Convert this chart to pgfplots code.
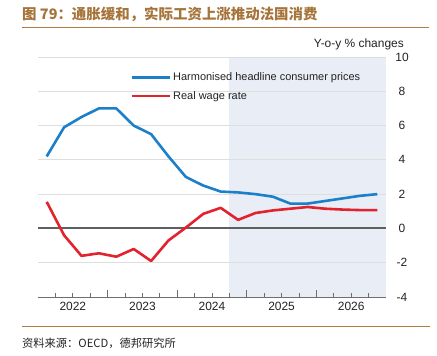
\documentclass[border=0pt]{standalone}
\usepackage{fontspec}
\setmainfont{Liberation Sans}
\newfontfamily\cjk{Noto Sans CJK SC}
\usepackage{pgfplots}
\pgfplotsset{compat=1.18}
\definecolor{titlebrown}{RGB}{166,116,58}
\definecolor{rulebrown}{RGB}{176,124,70}
\definecolor{hblue}{RGB}{27,128,201}
\definecolor{wred}{RGB}{226,34,44}
\definecolor{shadecol}{RGB}{233,237,246}
\definecolor{gridgray}{RGB}{222,222,222}
\definecolor{zerogray}{RGB}{95,95,95}
\definecolor{axisgray}{RGB}{110,110,110}
\definecolor{txt}{RGB}{35,35,35}
\begin{document}
\begin{tikzpicture}
\path (0,0) rectangle (437bp,356bp);
% title
\node[anchor=west, inner sep=0pt, text=titlebrown, font=\cjk\bfseries\fontsize{14.5}{16}\selectfont] at (22bp,342bp) {图 79：通胀缓和，实际工资上涨推动法国消费};
\draw[rulebrown, line width=1bp] (22bp,328bp) -- (429bp,328bp);
\draw[rulebrown, line width=1bp] (22bp,29bp) -- (430bp,29bp);
\node[anchor=west, inner sep=0pt, text=txt, font=\cjk\fontsize{11.3}{13}\selectfont] at (22bp,13bp) {资料来源：OECD，德邦研究所};
\begin{axis}[
  set layers,
  at={(38bp,59bp)}, anchor=south west,
  scale only axis, width=348bp, height=240bp,
  xmin=0, xmax=20, ymin=-4, ymax=10,
  axis x line*=bottom, axis y line*=right,
  y axis line style={draw=none},
  x axis line style={axisgray, line width=0.8bp, -},
  ytick={-4,-2,0,2,4,6,8,10},
  yticklabel style={anchor=center, xshift=16bp, text=txt, font=\fontsize{12}{14}\selectfont},
  ymajorgrids, grid style={gridgray, line width=0.8bp},
  ytick style={draw=none},
  xtick={2,6,10,14,18},
  xticklabels={2022,2023,2024,2025,2026},
  xticklabel style={text=txt, font=\fontsize{12}{14}\selectfont, yshift=-2bp},
  minor xtick={1,3,5,7,9,11,13,15,17,19},
  extra x ticks={4,8,12,16},
  extra x tick labels={},
  extra x tick style={major tick length=7bp},
  tick align=inside,
  major tick length=3.5bp, minor tick length=3.5bp,
  xtick style={axisgray, line width=0.8bp},
  /pgf/number format/assume math mode=true,
  legend style={draw=none, fill=none, at={(0.257,0.952)}, anchor=north west,
    font=\fontsize{11}{13}\selectfont, text=txt, row sep=5bp},
  legend cell align=left,
  legend image code/.code={\draw[#1] (0bp,0bp) -- (30bp,0bp); \path (0bp,0bp) -- (38bp,0bp);},
  clip=false,
]
\begin{pgfonlayer}{axis background}
\fill[shadecol] (axis cs:11,-4) rectangle (axis cs:20,10);
\end{pgfonlayer}
\addplot[zerogray, line width=2bp, forget plot] coordinates {(0,0) (20,0)};
\addplot[hblue, line width=2.6bp, line join=round] coordinates {
(0.5,4.2) (1.5,5.9) (2.5,6.5) (3.5,7.0) (4.5,7.0) (5.5,6.0) (6.5,5.5) (7.5,4.2)
(8.5,3.0) (9.5,2.5) (10.5,2.15) (11.5,2.1) (12.5,2.0) (13.5,1.85) (14.5,1.45)
(15.5,1.45) (16.5,1.6) (17.5,1.75) (18.5,1.9) (19.5,2.0)};
\addlegendentry{Harmonised headline consumer prices}
\addplot[wred, line width=2.6bp, line join=round] coordinates {
(0.5,1.55) (1.5,-0.4) (2.5,-1.6) (3.5,-1.45) (4.5,-1.65) (5.5,-1.2) (6.5,-1.9)
(7.5,-0.7) (8.5,0.05) (9.5,0.85) (10.5,1.2) (11.5,0.5) (12.5,0.9) (13.5,1.05)
(14.5,1.15) (15.5,1.25) (16.5,1.15) (17.5,1.1) (18.5,1.07) (19.5,1.07)};
\addlegendentry{Real wage rate}
\node[anchor=base east, inner sep=0pt, text=txt, font=\fontsize{12}{14}\selectfont] at (rel axis cs:1,1) [xshift=18bp, yshift=9.7bp] {Y-o-y \% changes};
\end{axis}
\end{tikzpicture}
\end{document}
